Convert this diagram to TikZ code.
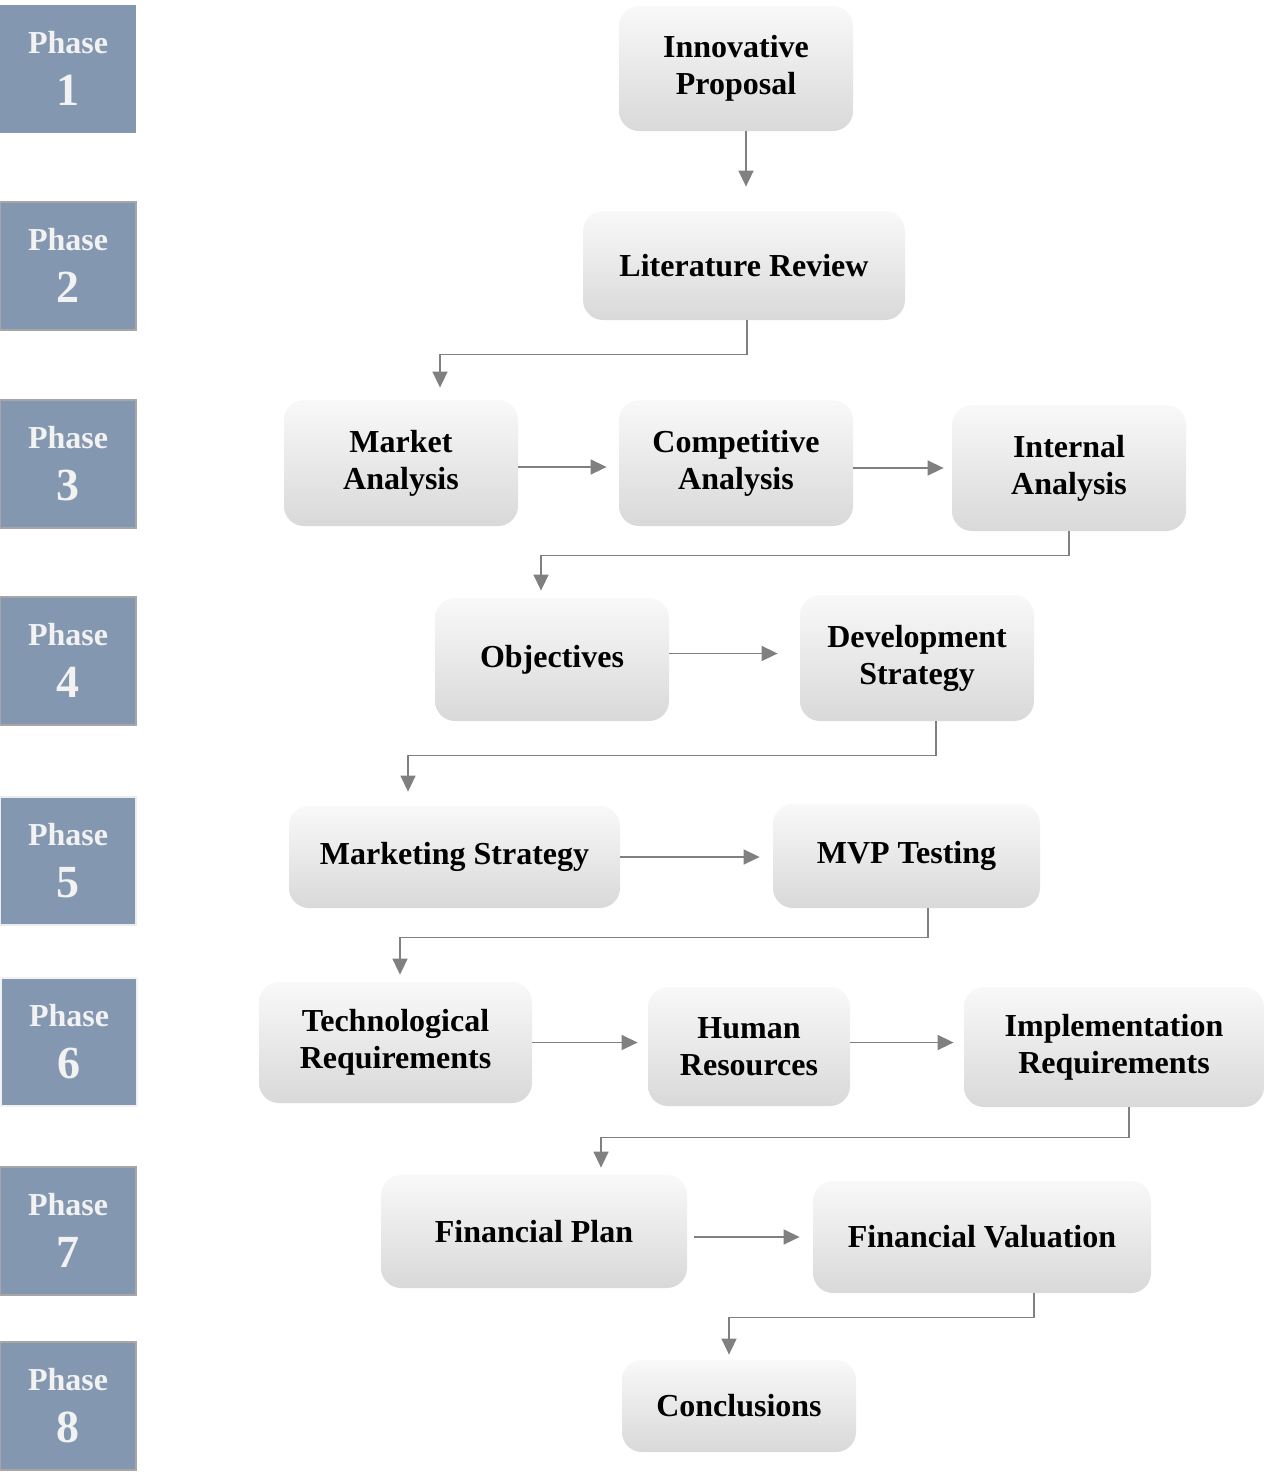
\documentclass[tikz,border=0pt]{standalone}
\usepackage{fontspec}
\setmainfont{Liberation Serif}
\usetikzlibrary{arrows.meta,positioning,calc}
\definecolor{phasefill}{HTML}{8497B0}
\definecolor{phasetext}{HTML}{F2F2F2}
\definecolor{arrgray}{HTML}{808080}
\tikzset{
  phase/.style={rectangle, fill=phasefill, draw=gray!70, line width=1pt, minimum width=68pt, minimum height=64pt, align=center, text=phasetext, font=\fontsize{16}{26}\selectfont\bfseries},
  blk/.style={rectangle, rounded corners=10pt, top color=gray!5, bottom color=gray!30, align=center, font=\fontsize{16}{18.5}\selectfont\bfseries},
  arr/.style={-{Triangle[length=8pt, width=7.5pt]}, draw=arrgray, line width=0.75pt},
}
\newcommand{\phasetxt}[1]{Phase\\{\fontsize{23}{26}\selectfont #1}}

\begin{document}
\begin{tikzpicture}[x=0.5pt, y=-0.5pt]
\useasboundingbox (0,0) rectangle (1264,1472);

% Phases
\node[phase, draw=none] (p1) at (68,68.5) {\phasetxt{1}};
\node[phase] (p2) at (68,265.5) {\phasetxt{2}};
\node[phase] (p3) at (68,463.5) {\phasetxt{3}};
\node[phase] (p4) at (68,660.5) {\phasetxt{4}};
\node[phase, draw=gray!15] (p5) at (68,860.5) {\phasetxt{5}};
\node[phase, draw=gray!10] (p6) at (69,1041.5) {\phasetxt{6}};
\node[phase] (p7) at (68,1230.5) {\phasetxt{7}};
\node[phase] (p8) at (68,1406) {\phasetxt{8}};

% Steps
\node[blk, minimum width=117pt, minimum height=62.5pt] (ip) at (736,68.5) {Innovative\\Proposal};
\node[blk, minimum width=161pt, minimum height=54.5pt] (lr) at (744,265.5) {Literature Review};
\node[blk, minimum width=117pt, minimum height=63pt] (ma) at (401,463) {Market\\Analysis};
\node[blk, minimum width=117pt, minimum height=63pt] (ca) at (736,463) {Competitive\\Analysis};
\node[blk, minimum width=117pt, minimum height=63pt] (ia) at (1069,468) {Internal\\Analysis};
\node[blk, minimum width=117pt, minimum height=61.5pt] (obj) at (552,659.5) {Objectives};
\node[blk, minimum width=117pt, minimum height=63pt] (ds) at (917,658) {Development\\Strategy};
\node[blk, minimum width=165.5pt, minimum height=51pt] (ms) at (454.5,857) {Marketing Strategy};
\node[blk, minimum width=133.5pt, minimum height=52pt] (mvp) at (906.5,856) {MVP Testing};
\node[blk, minimum width=136.5pt, minimum height=60.5pt] (tr) at (395.5,1042.5) {Technological\\Requirements};
\node[blk, minimum width=101pt, minimum height=59.5pt] (hr) at (749,1046.5) {Human\\Resources};
\node[blk, minimum width=150pt, minimum height=60pt] (ir) at (1114,1047) {Implementation\\Requirements};
\node[blk, minimum width=153pt, minimum height=56.5pt] (fp) at (534,1231.5) {Financial Plan};
\node[blk, minimum width=169pt, minimum height=56pt] (fv) at (982,1237) {Financial Valuation};
\node[blk, minimum width=117pt, minimum height=46pt] (con) at (739,1406) {Conclusions};

% Arrows
\draw[arr, shorten >=12pt] ([xshift=5pt]ip.south) -- ([xshift=5pt]ip.south |- lr.north);
\draw[arr, shorten >=6pt] ([xshift=1.5pt]lr.south) -- ++(0,34) -| ([xshift=19.5pt]ma.north);
\draw[arr, shorten >=6pt] ([yshift=-2pt]ma.east) -- ([yshift=-2pt]ma.east -| ca.west);
\draw[arr, shorten >=4pt] (ca.east |- ia.west) -- (ia.west);
\draw[arr, shorten >=3.5pt] (ia.south) -- ++(0,24) -| ([xshift=-5.5pt]obj.north);
\draw[arr, shorten >=11pt] ([yshift=3pt]obj.east) -- ([yshift=3pt]obj.east -| ds.west);
\draw[arr, shorten >=7pt] ([xshift=9.5pt]ds.south) -- ++(0,34) -| ([xshift=-23.25pt]ms.north);
\draw[arr, shorten >=6.5pt] (ms.east) -- (ms.east -| mvp.west);
\draw[arr, shorten >=3.5pt] ([xshift=10.75pt]mvp.south) -- ++(0,29) -| ([xshift=2.25pt]tr.north);
\draw[arr, shorten >=5pt] (tr.east) -- (tr.east -| hr.west);
\draw[arr, shorten >=5pt] ([yshift=2pt]hr.east) -- ([yshift=2pt]hr.east -| ir.west);
\draw[arr, shorten >=3.5pt] ([xshift=7.5pt]ir.south) -- ++(0,30) -| ([xshift=33.5pt]fp.north);
\draw[arr, shorten >=6.5pt] ([xshift=3.5pt]fp.east |- fv.west) -- (fv.west);
\draw[arr, shorten >=2.5pt] ([xshift=26pt]fv.south) -- ++(0,24) -| ([xshift=-5pt]con.north);

\end{tikzpicture}
\end{document}
